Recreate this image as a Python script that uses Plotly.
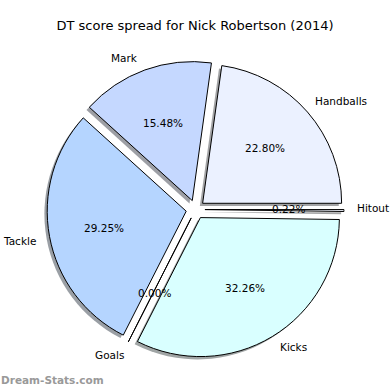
import math
import plotly.graph_objects as go

# ---- data ----
labels = ["Hitout", "Handballs", "Mark", "Tackle", "Goals", "Kicks"]
values = [0.22, 22.80, 15.48, 29.25, 0.00, 32.26]
colors = ["#f2f6ff", "#ebf1ff", "#c5d8ff", "#b5d5ff", "#cfe6ff", "#d9ffff"]
title_text = "DT score spread for Nick Robertson (2014)"
watermark = "Dream-Stats.com"

# ---- geometry (pixels in a 390x390 page) ----
W = H = 390
cx, cy = 195.5, 209.5
R = 139.0
pull = 0.068
half = R * (1 + pull)
shadow_dx, shadow_dy = -2.8, 2.8


def dom(cx_, cy_):
    return dict(x=[(cx_ - half) / W, (cx_ + half) / W],
                y=[1 - (cy_ + half) / H, 1 - (cy_ - half) / H])


def shadow_col(hexc):
    r = int(hexc[1:3], 16); g = int(hexc[3:5], 16); b = int(hexc[5:7], 16)
    return "rgba(%d,%d,%d,0.5)" % (r * 0.3, g * 0.3, b * 0.3)


fig = go.Figure()
fig.add_trace(go.Pie(
    labels=labels, values=values, sort=False, direction="counterclockwise",
    rotation=90, pull=[pull] * len(values), textinfo="none", hoverinfo="skip",
    marker=dict(colors=[shadow_col(c) for c in colors], line=dict(width=0)),
    domain=dom(cx + shadow_dx, cy + shadow_dy), showlegend=False,
))
fig.add_trace(go.Pie(
    labels=labels, values=values, sort=False, direction="counterclockwise",
    rotation=90, pull=[pull] * len(values), textinfo="none", hoverinfo="skip",
    marker=dict(colors=colors, line=dict(color="black", width=1)),
    domain=dom(cx, cy), showlegend=False,
))

# ---- text labels (matplotlib-style: labels at 1.1R, percents at 0.6R) ----
total = sum(values)
annotations = []
start = 0.0
for lab, v in zip(labels, values):
    span = 360.0 * v / total
    mid = math.radians(start + span / 2)
    start += span
    c, s = math.cos(mid), math.sin(mid)
    lx = cx + (1.1 + pull) * R * c
    ly = cy - (1.1 + pull) * R * s
    annotations.append(dict(
        x=lx / W, y=1 - ly / H, xref="paper", yref="paper", text=lab,
        showarrow=False, xanchor="left" if c > 0 else "right", yanchor="middle",
        xshift=-3 if c > 0 else 2,
        font=dict(family="DejaVu Sans", size=10.5, color="black")))
    px = cx + (0.6 + pull) * R * c
    py = cy - (0.6 + pull) * R * s
    annotations.append(dict(
        x=px / W, y=1 - py / H, xref="paper", yref="paper",
        text="%.2f%%" % (100.0 * v / total), showarrow=False,
        xanchor="center", yanchor="middle",
        font=dict(family="DejaVu Sans", size=10.5, color="black")))

annotations.append(dict(
    x=-0.003, y=1 - 380 / H, xref="paper", yref="paper", text="<b>" + watermark + "</b>",
    showarrow=False, xanchor="left", yanchor="middle",
    font=dict(family="DejaVu Sans", size=10.5, color="#999999")))

fig.update_layout(
    width=W, height=H, margin=dict(l=0, r=0, t=0, b=0),
    paper_bgcolor="white", plot_bgcolor="white",
    title=dict(text=title_text, x=0.5, xanchor="center", y=1 - 25 / H,
               yanchor="middle", yref="container",
               font=dict(family="DejaVu Sans", size=13, color="black")),
    annotations=annotations,
)

fig.write_html("out.html", config={"displayModeBar": False},
               post_script="document.body.style.margin='0px';"
                           "document.body.style.overflow='hidden';")
